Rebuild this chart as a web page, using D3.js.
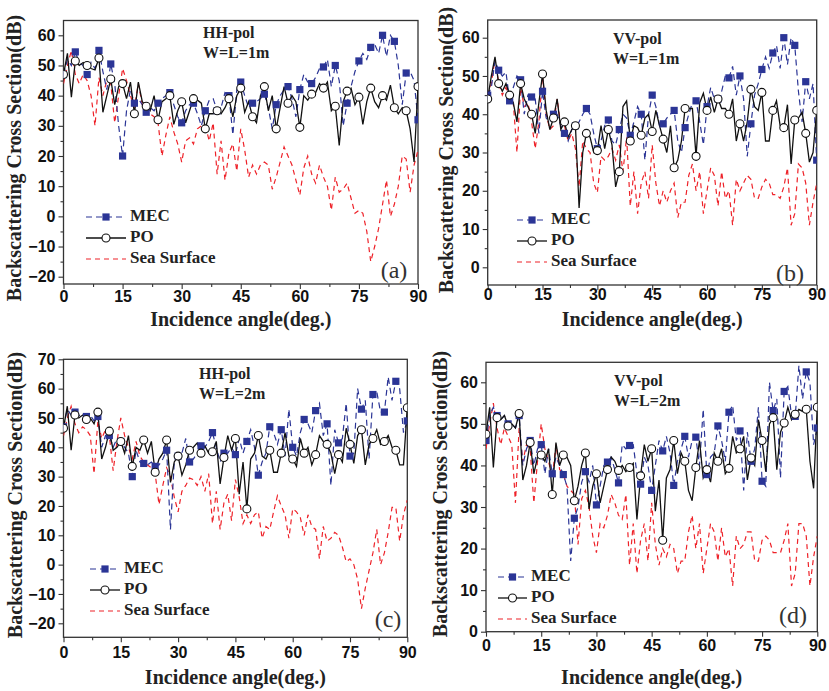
<!DOCTYPE html>
<html>
<head>
<meta charset="utf-8">
<script src="https://cdn.jsdelivr.net/npm/d3@7/dist/d3.min.js"></script>
<style>
  body { margin: 0; background: #fff; }
  svg { display: block; }
</style>
</head>
<body>
<svg id="chart" width="829" height="691"></svg>
<script>
// incidence angle grid, 1 deg steps
const angles = d3.range(0, 91);
const xTicks = [0, 15, 30, 45, 60, 75, 90];
const yTicksWide = [-20, -10, 0, 10, 20, 30, 40, 50, 60];
const yTicksWideC = [-20, -10, 0, 10, 20, 30, 40, 50, 60, 70];
const yTicksNarrow = [0, 10, 20, 30, 40, 50, 60];
const seriesNames = ["MEC", "PO", "Sea Surface"];

// (a) HH-pol, W=L=1m
const aMEC = [47,52,50,54.5,51,50,47,51,49,55,
  48,42,50.5,44,30,20,35,42,37.5,39,
  37,34.5,36,35,37.5,39,40,41,37,33,
  31,35,37,37.5,34,30,35,38.5,39,35,
  36,41,40,27,42,44.5,40,36,37.5,38,
  39,40.5,36,29,37,40,42,43,39,33,
  42,47,44.5,44,46,49,49.5,52,43,50,
  45,30,37.5,43,48,51.5,54,52,56,57,
  54,60,53,60,58,50,37,47.5,48,45,
  32];
const aPO = [47,54,39.5,51.5,50,51,50,49,48.5,52.5,
  34.5,40,45.5,37,43,44,39,44.5,34,44.5,
  38,36.5,35,40,32,38,39,40,30.5,35,
  38,31,35,39,38.5,37.5,29,34,34,35,
  34,36,39,33,40,42.5,34.5,38,33,31,
  40,43,35,40,29,36,43,37.5,40,38,
  29.5,40,38.5,40.5,41,44,42.5,44.5,35,36.5,
  23.5,38,41.5,42.5,37,39.5,30.5,38,42.5,38,
  36,40,38.5,43.5,36,34,36,35,29,18,
  43];
const aSea = [44,50,55,47,44,47,45,40,30,46,
  40,45,44,31,40,49,45,40,36,44,
  37,35,34,33,31,20,27,33,28,24,
  18,25,26,24,29,30,30,25,31,14,
  25,12,21,24,15,29,22,13,17,14,
  17,18,17,9,13,18,23,20,17,12,
  7,16,20,14,11,17,13,10,2,13,
  8,9,11,6,1,2,1,-5,-15,-10,
  -4,4,12,0,4,10,20,19,8,17,
  22];

// (b) VV-pol, W=L=1m
const bMEC = [45,47,54,51.5,50,51,43.5,47,50,49,
  40,45,44.5,44,35,46,39,38,40,40,
  37,35,33,36,37,38,40,41.5,40,35,
  31,33,37,38.5,33,32,36,40,39,34.5,
  38,42,40,28,40,45,42,37,37.5,39,
  40,41,33,30,36.5,40,43,43.5,38,32,
  42,47,44,44,46,50,49.5,52.5,45,50,
  44,29,37.5,45,48,51.7,55,52,56,58,
  52,60,53,60,58,46,38,48.5,44,48,
  28];
const bPO = [44,50,55,48,46,48,45,43,38,48,
  44,42,40,35,43,50.5,41,36,39,44,
  36,38,34,36,37,15.5,30,35,34,30,
  30.5,37,31,36,32,21,25,42,43.5,33,
  37,36.5,34.5,39,40,35.5,41,37,33.5,30,
  37,26,28,33,41.5,41.5,41.5,29,43,45.5,
  41,44.5,40.5,44,41.5,41.5,40,44,33,37.5,
  33,38,46.5,42,41,45.7,33,33,41,43.5,
  37,36.5,42.5,27,38.5,39,40.5,35,27.5,30,
  41];
const bSea = [45,48,54.5,48,45,47,44,43,30,47,
  42,43,38,31,38,50,40,36,37,44,
  37,37,33,35,31,21,33,31,30,22,
  19.5,29,28,29,31,28,32,25,34,16,
  25,14,22,25,18,32,22,16,20,17,
  20,22,13,17,17,24,27,20,25,14,
  20,26,24,16,25,18,20,11,23,20,
  22,24,23,18,18,21,23,22,19,19,
  18,21,26,11,14,27,26,22,11,17,
  22];

// (c) HH-pol, W=L=2m
const cMEC = [47,53,51,52,51,50,50.5,51,49,50.5,
  40,44,44,40,43,42,40,38,30,39,
  35,34.5,34,35,33.5,34,36,39,12,35,
  37,38,43,35,36,38,40.5,40,42,45,
  40,35,38,38,40,37.5,43,38,42,46,
  40,30.5,35,38,47,45,41,46,37,53,
  40,37,45,49.5,48,45,52.5,55,44,48,
  27,46,41.5,43,55,37,38,60,53,56,
  36,58,59,52,52,64,56,62.5,60,45,
  49];
const cPO = [46.5,54,39,51,50,51,49.5,50,48,52,
  36,40,45.5,39,40,42,38,44,33.5,40,
  39,42.5,38,42,31.5,36,38,42.5,28,35,
  37,30.5,34,39,40,41.5,38,40.5,38,38.5,
  42,27.5,36.5,44,39,43,24,35,19,36,
  38,44,37,36,39,31.5,31.5,38,45,37,
  36,33.5,43,38,40,34,37.5,44,42,41,
  38,31,37.5,35,46.5,41,34.5,44,46,34,
  41,43,46,41,42,44,40,39,34,34,
  53.5];
const cSea = [44,50,54,48,45,47,46,44,31,49,
  43,46,44,32,42,50,44,40,36,42,
  37,35,34,33,31,20.5,27,33,30,23,
  18,25,27,29.5,29,27,30,25,31,14,
  25,12,21,24,15,29,23,14,17,14,
  17,18,9,13,12,18,23.5,20,17,9,
  19,18,16,10,17,13,12,2,13,8,
  9,11,10,6,1,2,0,-5,-15,-8,
  -2,4,12,0,4,11,19.5,19.5,8,17,
  22];

// (d) VV-pol, W=L=2m
const dMEC = [46,52,54,52,51,52,50,50,49,52,
  40,44,46,40,44,45,38,44,38,42,
  40,37.8,35,17,27.3,30,36,38.5,36,40,
  30.5,35,40,40.8,42,39,35.8,45,44,44.8,
  45,38,35.5,42,40,34,40,46,43.5,47,
  43,35.2,41,44,47,42,46,46.8,40,53.5,
  37.8,42,43,49.5,46,41,52.8,54.5,46,48.3,
  34,48,41,44,54,36.2,35,60,53.2,56,
  37,57.8,59,52,51.8,64,56,62.5,60,45,
  49];
const dPO = [47.5,54,39.5,51.5,51,52,49.5,50,49,52.5,
  36.5,40,45.5,38,42,42.5,41,44,33,45.5,
  40,42.5,42,40,31.5,35,40,43,29.5,35,
  38,31,35,39,42,41,38.8,40,38.5,39.5,
  40.5,27,37.5,45,41,44,29,36.5,22,37,
  39,46,38,43,41,34,31.5,39.5,46,37,
  39,36,43,41,44,38,39.3,47,43,44,
  47,36.5,41.8,40,51,46,38.5,50,51.5,39,
  48,50.2,54,51,52.3,53.5,53,53.5,41,34.5,
  54];
const dSea = [44,50,55,49,45,49,47,45,31,49,
  41,45,44,31,41,50,44,41,37,45,
  39,38,35,34,33,21,32,34,30,23,
  19,26,25,28,33,31,28,27,33,16,
  26,14,22,26,17,31,21,16,20,18,
  21,20,14,17,17,24,28,20,26,14,
  20,26,24,17,25,18,20,11,23,20,
  21,24,24,17,17,22,23,22,19,19,
  19,22,26,11,14,26,26,23,11,18,
  23];

const BLUE = "#2b3596", RED = "#ee2229";
const SERIF = "'Liberation Serif','Times New Roman',serif";
const SANS = "'Liberation Sans',Arial,sans-serif";

// layout of each panel (pixel positions of the ticks and the frame)
const panels = [
  { tag: "(a)", pol: "HH-pol", size: "W=L=1m", mec: aMEC, po: aPO, sea: aSea,
    yTicks: yTicksWide, x0: 63.5, x1: 418, yv: [-20, 60], yp: [276.7, 35.3], top: 20.5, bottom: 284,
    ann: [203, 34], tagPos: [394, 272], leg: [86, 217, 40], tickY: 298, titleY: 321, yTitle: [16, 158] },
  { tag: "(b)", pol: "VV-pol", size: "W=L=1m", mec: bMEC, po: bPO, sea: bSea,
    yTicks: yTicksNarrow, x0: 487.7, x1: 816.7, yv: [0, 60], yp: [267.3, 37.7], top: 20, bottom: 285,
    ann: [613, 40], tagPos: [790, 275], leg: [517, 220, 30], tickY: 296, titleY: 321, yTitle: [448, 150] },
  { tag: "(c)", pol: "HH-pol", size: "W=L=2m", mec: cMEC, po: cPO, sea: cSea,
    yTicks: yTicksWideC, x0: 63.5, x1: 407.3, yv: [-20, 70], yp: [623.3, 359.3], top: 359.3, bottom: 637.3,
    ann: [199, 375], tagPos: [388, 621], leg: [90, 569, 30], tickY: 654, titleY: 679, yTitle: [17, 495] },
  { tag: "(d)", pol: "VV-pol", size: "W=L=2m", mec: dMEC, po: dPO, sea: dSea,
    yTicks: yTicksNarrow, x0: 486, x1: 817.3, yv: [0, 60], yp: [631.7, 382.3], top: 362.3, bottom: 631.7,
    ann: [614, 382], tagPos: [793, 617], leg: [498, 577, 29], tickY: 647, titleY: 679, yTitle: [442, 494] }
];

const svg = d3.select("#chart");

panels.forEach((p, k) => {
  const x = d3.scaleLinear().domain([0, 90]).range([p.x0, p.x1]);
  const y = d3.scaleLinear().domain(p.yv).range(p.yp);
  const g = svg.append("g");

  // clip to frame
  const cid = "clip" + k;
  svg.append("clipPath").attr("id", cid).append("rect")
    .attr("x", p.x0).attr("y", p.top).attr("width", p.x1 - p.x0).attr("height", p.bottom - p.top);

  // x axis (major + minor ticks)
  const xa = g.append("g").attr("transform", "translate(0," + p.bottom + ")")
    .call(d3.axisBottom(x).tickValues(xTicks).tickSize(5).tickPadding(3));
  g.append("g").attr("transform", "translate(0," + p.bottom + ")")
    .call(d3.axisBottom(x).tickValues(xTicks.slice(1).map(v => v - 7.5)).tickSize(3).tickFormat(""));
  // y axis
  const ya = g.append("g").attr("transform", "translate(" + p.x0 + ",0)")
    .call(d3.axisLeft(y).tickValues(p.yTicks).tickSize(5).tickPadding(3));
  const yMinor = p.yTicks.map(v => v + 5).filter(v => y(v) > p.top);
  if (p.yTicks[0] - 5 >= y.invert(p.bottom)) yMinor.unshift(p.yTicks[0] - 5);
  g.append("g").attr("transform", "translate(" + p.x0 + ",0)")
    .call(d3.axisLeft(y).tickValues(yMinor).tickSize(3).tickFormat(""));
  g.selectAll(".domain").remove();
  g.selectAll(".tick line").attr("stroke", "#333").attr("stroke-width", 1.1);
  xa.selectAll("text").attr("font-family", SANS).attr("font-weight", "bold")
    .attr("font-size", 16).attr("fill", "#111").attr("dy", null).attr("y", null)
    .attr("transform", "translate(0," + (p.tickY - p.bottom) + ")").attr("dominant-baseline", "middle");
  ya.selectAll("text").attr("font-family", SANS).attr("font-weight", "bold")
    .attr("font-size", 16).attr("fill", "#111");

  // frame
  g.append("rect").attr("x", p.x0).attr("y", p.top)
    .attr("width", p.x1 - p.x0).attr("height", p.bottom - p.top)
    .attr("fill", "none").attr("stroke", "#333").attr("stroke-width", 1.3);

  const plot = g.append("g").attr("clip-path", "url(#" + cid + ")");
  const line = arr => d3.line().x((d, i) => x(angles[i])).y(d => y(d))(arr);
  const markIdx = angles.filter(a => a % 3 === 0);

  plot.append("path").attr("d", line(p.sea)).attr("fill", "none")
    .attr("stroke", RED).attr("stroke-width", 1.2).attr("stroke-dasharray", "5,4");
  plot.append("path").attr("d", line(p.mec)).attr("fill", "none")
    .attr("stroke", BLUE).attr("stroke-width", 1.2).attr("stroke-dasharray", "6,4");
  plot.append("path").attr("d", line(p.po)).attr("fill", "none")
    .attr("stroke", "#111").attr("stroke-width", 1.3);

  plot.selectAll(".sq").data(markIdx).enter().append("rect")
    .attr("x", a => x(a) - 3.6).attr("y", a => y(p.mec[a]) - 3.6)
    .attr("width", 7.2).attr("height", 7.2).attr("fill", BLUE);
  plot.selectAll(".ci").data(markIdx).enter().append("circle")
    .attr("cx", a => x(a)).attr("cy", a => y(p.po[a])).attr("r", 4)
    .attr("fill", "#fff").attr("stroke", "#111").attr("stroke-width", 1.1);

  // annotations
  g.append("text").attr("x", p.ann[0]).attr("y", p.ann[1]).text(p.pol)
    .attr("font-family", SERIF).attr("font-weight", "bold").attr("font-size", 16)
    .attr("dominant-baseline", "middle").attr("fill", "#222");
  g.append("text").attr("x", p.ann[0]).attr("y", p.ann[1] + 20).text(p.size)
    .attr("font-family", SERIF).attr("font-weight", "bold").attr("font-size", 16)
    .attr("dominant-baseline", "middle").attr("fill", "#222");
  g.append("text").attr("x", p.tagPos[0]).attr("y", p.tagPos[1]).text(p.tag)
    .attr("font-family", SERIF).attr("font-size", 24).attr("text-anchor", "middle")
    .attr("dominant-baseline", "middle").attr("fill", "#333");

  // legend
  const lx = p.leg[0], ly = p.leg[1], lw = p.leg[2], gap = 21;
  const styles = [
    { stroke: BLUE, dash: "6,4", w: 1.2 },
    { stroke: "#111", dash: null, w: 1.3 },
    { stroke: RED, dash: "5,4", w: 1.2 }
  ];
  seriesNames.forEach((name, i) => {
    const yy = ly + i * gap;
    g.append("line").attr("x1", lx).attr("x2", lx + lw).attr("y1", yy).attr("y2", yy)
      .attr("stroke", styles[i].stroke).attr("stroke-width", styles[i].w)
      .attr("stroke-dasharray", styles[i].dash);
    if (i === 0) g.append("rect").attr("x", lx + lw / 2 - 3.6).attr("y", yy - 3.6)
      .attr("width", 7.2).attr("height", 7.2).attr("fill", BLUE);
    if (i === 1) g.append("circle").attr("cx", lx + lw / 2).attr("cy", yy).attr("r", 4)
      .attr("fill", "#fff").attr("stroke", "#111").attr("stroke-width", 1.1);
    g.append("text").attr("x", lx + lw + 4).attr("y", yy).text(name)
      .attr("font-family", SERIF).attr("font-weight", "bold").attr("font-size", 17)
      .attr("dominant-baseline", "middle").attr("fill", "#222");
  });

  // axis titles
  g.append("text").attr("x", (p.x0 + p.x1) / 2).attr("y", p.titleY).text("Incidence angle(deg.)")
    .attr("font-family", SERIF).attr("font-weight", "bold").attr("font-size", 20)
    .attr("text-anchor", "middle").attr("dominant-baseline", "middle").attr("fill", "#222");
  g.append("text").attr("transform", "translate(" + p.yTitle[0] + "," + p.yTitle[1] + ") rotate(-90)")
    .text("Backscattering Cross Section(dB)")
    .attr("font-family", SERIF).attr("font-weight", "bold").attr("font-size", 20)
    .attr("text-anchor", "middle").attr("dominant-baseline", "middle").attr("fill", "#222");
});
</script>
</body>
</html>
